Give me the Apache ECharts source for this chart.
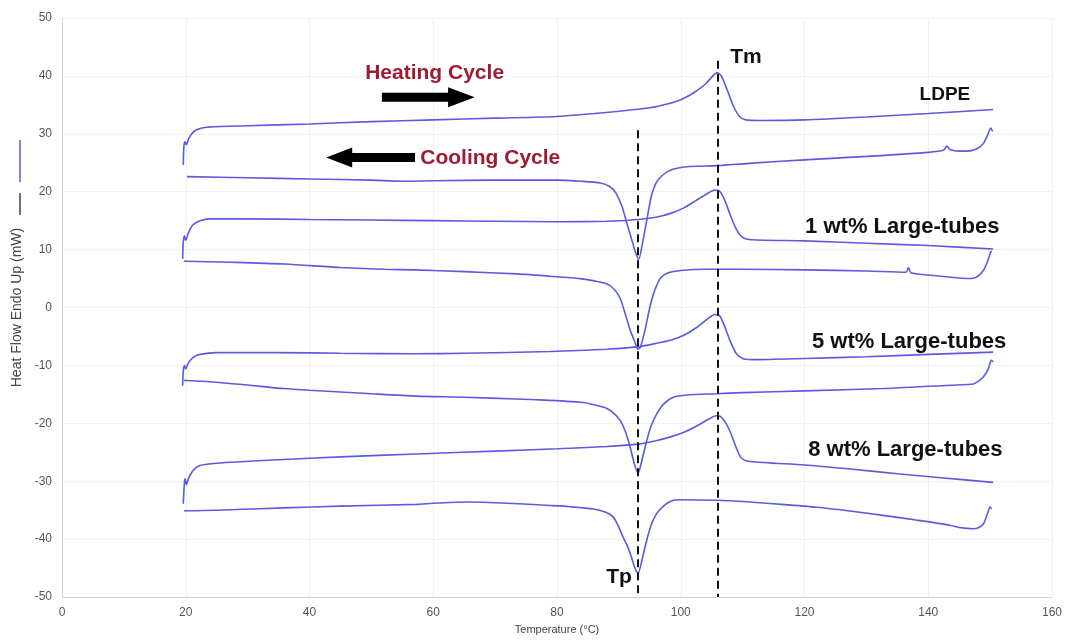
<!DOCTYPE html>
<html>
<head>
<meta charset="utf-8">
<title>DSC heating and cooling cycles</title>
<script src="https://cdn.jsdelivr.net/npm/echarts@6/dist/echarts.min.js"></script>
<style>
  html, body { margin: 0; padding: 0; background: #ffffff; }
  #chart { width: 1072px; height: 644px; }
</style>
</head>
<body>
<div id="chart"></div>
<script>
// Temperature (°C) vs heat flow (mW), each curve as [T, heatFlow] pairs.
const heatLDPE = [
  [19.6, 24.6], [19.7, 27.8], [19.9, 28.6], [20.1, 28.1], [20.5, 29.2], [21.2, 30.3], [22.3, 30.9],
  [24, 31.2], [30, 31.4], [40, 31.7], [50, 32.1], [60, 32.4], [70, 32.7], [80, 33.0], [86, 33.5],
  [90, 33.9], [95, 34.5], [98, 35.2], [100, 35.9], [102, 37.0], [104, 38.6], [105.2, 40.0],
  [105.9, 40.6], [106.6, 39.9], [107.5, 37.6], [108.5, 34.8], [109.5, 33.0], [110.5, 32.4],
  [113, 32.3], [120, 32.4], [130, 32.9], [140, 33.5], [150.5, 34.2]
];
const coolLDPE = [
  [150.4, 30.4], [150.1, 31.0], [149.6, 29.8], [148.9, 28.3], [148, 27.5], [147, 27.1], [145, 27.0],
  [143.5, 27.3], [143.0, 27.9], [142.5, 27.2], [140, 26.8], [130, 26.1], [120, 25.5], [111, 24.9],
  [106, 24.5], [101, 24.3], [98.5, 23.8], [97, 22.8], [96, 21.5], [95.2, 19.0], [94.5, 15.0],
  [93.8, 11.0], [93.2, 8.3], [92.7, 9.5], [92, 12.0], [91.3, 14.5], [90.5, 17.5], [89.5, 19.8],
  [88.5, 20.9], [87, 21.5], [84, 21.8], [80, 22.0], [70, 22.0], [60, 21.9], [55, 21.8], [50, 22.0],
  [40, 22.2], [30, 22.4], [20.2, 22.6]
];
const heat1 = [
  [19.5, 8.4], [19.6, 11.3], [19.8, 12.4], [20.0, 11.6], [20.4, 12.8], [21.1, 14.2], [22.3, 15.0],
  [24, 15.3], [30, 15.3], [40, 15.2], [50, 15.1], [60, 15.0], [70, 14.9], [80, 14.8], [88, 14.9],
  [92, 15.1], [96, 15.6], [98.5, 16.3], [100.5, 17.2], [102.5, 18.5], [104.3, 19.7], [105.5, 20.3],
  [106.2, 20.2], [107, 18.8], [108, 16.0], [109, 13.5], [110, 12.1], [111.5, 11.7], [120, 11.5],
  [130, 11.1], [140, 10.7], [150.5, 10.1]
];
const cool1 = [
  [150.3, 9.7], [150.1, 9.6], [149.6, 8.0], [148.9, 6.4], [148, 5.4], [147, 5.0], [145, 5.1],
  [140, 5.6], [137.2, 6.0], [136.8, 6.9], [136.4, 6.1], [130, 6.3], [120, 6.5], [110, 6.6],
  [104, 6.6], [100, 6.4], [98, 6.0], [96.8, 5.2], [95.8, 3.0], [95, 0], [94.2, -4.0], [93.5, -6.8],
  [93.1, -7.2], [92.6, -6.0], [91.8, -3.8], [91, -1.0], [90.2, 1.6], [89.2, 3.2], [88, 4.1],
  [86, 4.6], [84, 4.95], [80, 5.3], [73.5, 5.8], [65, 6.2], [57, 6.5], [52, 6.6], [45, 6.9],
  [36, 7.5], [28, 7.8], [20, 8.0], [19.7, 8.0]
];
const heat5 = [
  [19.5, -13.5], [19.6, -11.0], [19.8, -10.0], [20.0, -10.6], [20.4, -9.6], [21.2, -8.6],
  [22.3, -8.1], [25, -7.8], [35, -7.8], [45, -7.9], [57, -8.0], [65, -7.9], [78.9, -7.6],
  [88, -7.2], [93, -6.8], [96, -6.2], [98.5, -5.6], [100.5, -4.8], [102.5, -3.5], [104.3, -2.0],
  [105.5, -1.2], [106.2, -1.3], [107, -3.0], [108, -5.8], [109, -8.0], [110.2, -8.9], [112, -9.0],
  [120, -8.8], [130, -8.5], [140, -8.1], [150.5, -7.7]
];
const cool5 = [
  [150.5, -9.4], [150.2, -9.1], [149.7, -10.6], [148.9, -12.0], [148, -12.8], [147.3, -13.2],
  [140, -13.6], [132.7, -14.0], [120, -14.4], [110, -14.7], [105.8, -14.9], [101, -15.1],
  [98.8, -15.5], [97.3, -16.6], [96.1, -18.4], [95.2, -20.5], [94.5, -23.0], [93.7, -26.5],
  [93.1, -28.6], [92.5, -27.0], [91.8, -24.0], [91.0, -21.3], [90.2, -19.5], [89.2, -18.3],
  [88, -17.4], [86, -16.8], [84.3, -16.4], [78, -16.0], [73.5, -15.8], [65, -15.5], [57.3, -15.3],
  [50, -14.9], [40, -14.3], [35.8, -14.0], [28, -13.2], [20, -12.6], [19.7, -12.6]
];
const heat8 = [
  [19.6, -33.9], [19.8, -30.0], [19.9, -29.6], [20.1, -30.6], [20.5, -29.4], [21.3, -28.0],
  [22.3, -27.3], [25, -26.9], [35, -26.3], [45, -25.8], [57.3, -25.3], [70, -24.8], [80, -24.4],
  [88, -24.0], [93.1, -23.6], [96, -23.0], [98.5, -22.3], [100.4, -21.6], [102.5, -20.5],
  [104.5, -19.3], [105.7, -18.7], [106.4, -18.8], [107.2, -19.8], [108, -21.5], [109, -24.3],
  [109.8, -26.0], [111.2, -26.6], [120, -27.2], [127.4, -27.9], [135, -28.7], [142, -29.4],
  [150.5, -30.2]
];
const cool8 = [
  [150.2, -34.8], [150.0, -34.4], [149.6, -35.5], [148.9, -37.4], [148, -38.1], [147.3, -38.2],
  [145, -38.0], [143.5, -37.6], [138, -36.7], [132.7, -35.9], [127, -35.1], [122, -34.5],
  [115, -33.9], [110, -33.5], [105.8, -33.3], [100, -33.2], [98.8, -33.3], [97.3, -34.2],
  [96.1, -35.6], [95.2, -37.6], [94.5, -40.2], [93.8, -43.3], [93.1, -45.9], [92.6, -45.0],
  [92, -43.0], [91.3, -41.0], [90.7, -39.7], [89.8, -37.5], [89.1, -36.2], [88, -35.4],
  [85.9, -34.8], [82, -34.4], [78.9, -34.2], [72, -33.8], [65.4, -33.6], [60, -33.8],
  [57.3, -34.0], [45, -34.3], [35.8, -34.6], [28, -34.9], [20, -35.1], [19.7, -35.1]
];

// Characteristic temperatures (°C)
const meltPeakT = 105.9;   // Tm
const crystPeakT = 93.1;   // Tp

const curveColor = '#5b5be0';
const darkRed = '#9e1b32';
const annotFont = '"Liberation Sans", Arial, sans-serif';

const chart = echarts.init(document.getElementById('chart'), null, { renderer: 'canvas' });

function curve(name, data) {
  return {
    name: name,
    type: 'line',
    data: data,
    showSymbol: false,
    smooth: 0.25,
    lineStyle: { color: curveColor, width: 1.6 },
    z: 3,
    silent: true
  };
}

const dashStyle = { color: '#111', width: 2, type: [8, 5] };

const option = {
  animation: false,
  backgroundColor: '#ffffff',
  grid: { left: 62, right: 20, top: 18, bottom: 47 },
  xAxis: {
    type: 'value',
    min: 0, max: 160, interval: 20,
    name: 'Temperature (°C)',
    nameLocation: 'middle',
    nameGap: 27,
    nameTextStyle: { color: '#444', fontSize: 11, fontFamily: annotFont },
    axisLine: { show: true, onZero: false, lineStyle: { color: '#d4d4d4' } },
    axisTick: { show: false },
    axisLabel: { color: '#555', fontSize: 12, margin: 10, fontFamily: annotFont },
    splitLine: { show: true, lineStyle: { color: '#f1f1f1' } }
  },
  yAxis: {
    type: 'value',
    min: -50, max: 50, interval: 10,
    name: 'Heat Flow Endo Up (mW)',
    nameLocation: 'middle',
    nameGap: 35,
    nameTextStyle: { color: '#444', fontSize: 14, fontFamily: annotFont },
    axisLine: { show: true, onZero: false, lineStyle: { color: '#d4d4d4' } },
    axisTick: { show: false },
    axisLabel: { color: '#555', fontSize: 12, margin: 10, fontFamily: annotFont },
    splitLine: { show: true, lineStyle: { color: '#f1f1f1' } }
  },
  series: [
    curve('LDPE heating', heatLDPE),
    curve('LDPE cooling', coolLDPE),
    curve('1 wt% heating', heat1),
    curve('1 wt% cooling', cool1),
    curve('5 wt% heating', heat5),
    curve('5 wt% cooling', cool5),
    curve('8 wt% heating', heat8),
    curve('8 wt% cooling', cool8),
    {
      name: 'peak markers',
      type: 'line',
      data: [],
      z: 4,
      markLine: {
        silent: true,
        symbol: ['none', 'none'],
        label: { show: false },
        lineStyle: dashStyle,
        data: [
          [{ coord: [meltPeakT, 42.6] }, { coord: [meltPeakT, -50] }],
          [{ coord: [crystPeakT, 30.6] }, { coord: [crystPeakT, -50] }]
        ]
      }
    }
  ]
};

chart.setOption(option);

// Annotations placed in data coordinates, converted to pixels
function px(t, v) {
  return chart.convertToPixel({ gridIndex: 0 }, [t, v]);
}

function label(text, t, v, opts) {
  const p = px(t, v);
  return {
    type: 'text',
    x: p[0], y: p[1],
    z: 10,
    style: {
      text: text,
      fill: opts.color || '#111',
      font: 'bold ' + (opts.size || 21) + 'px ' + annotFont,
      align: opts.align || 'left',
      verticalAlign: 'middle'
    }
  };
}

function arrow(tFrom, tTo, tHeadBase, v) {
  const a = px(tFrom, v), b = px(tTo, v), h = px(tHeadBase, v);
  const half = 4.5, headHalf = 10;
  return {
    type: 'polygon',
    z: 10,
    shape: {
      points: [
        [a[0], a[1] - half], [h[0], h[1] - half], [h[0], h[1] - headHalf],
        [b[0], b[1]], [h[0], h[1] + headHalf], [h[0], h[1] + half], [a[0], a[1] + half]
      ]
    },
    style: { fill: '#000' }
  };
}

const graphics = [
  label('Tm', 108.0, 43.2, {}),
  label('Tp', 92.1, -46.6, { align: 'right' }),
  label('LDPE', 138.6, 36.7, { size: 19 }),
  label('1 wt% Large-tubes', 120.1, 14.0, { size: 22 }),
  label('5 wt% Large-tubes', 121.2, -5.9, { size: 22 }),
  label('8 wt% Large-tubes', 120.6, -24.6, { size: 22 }),
  label('Heating Cycle', 49.0, 40.4, { color: darkRed }),
  label('Cooling Cycle', 57.9, 25.7, { color: darkRed }),
  arrow(51.7, 66.7, 62.4, 36.3),
  arrow(57.05, 42.7, 46.9, 25.9),
  // colour key beside the y-axis title
  {
    type: 'line', z: 10,
    shape: { x1: 20, y1: 140, x2: 20, y2: 182 },
    style: { stroke: curveColor, lineWidth: 1.5 }
  },
  {
    type: 'line', z: 10,
    shape: { x1: 20, y1: 193, x2: 20, y2: 215 },
    style: { stroke: '#222', lineWidth: 1.3 }
  }
];

chart.setOption({ graphic: graphics });
</script>
</body>
</html>
